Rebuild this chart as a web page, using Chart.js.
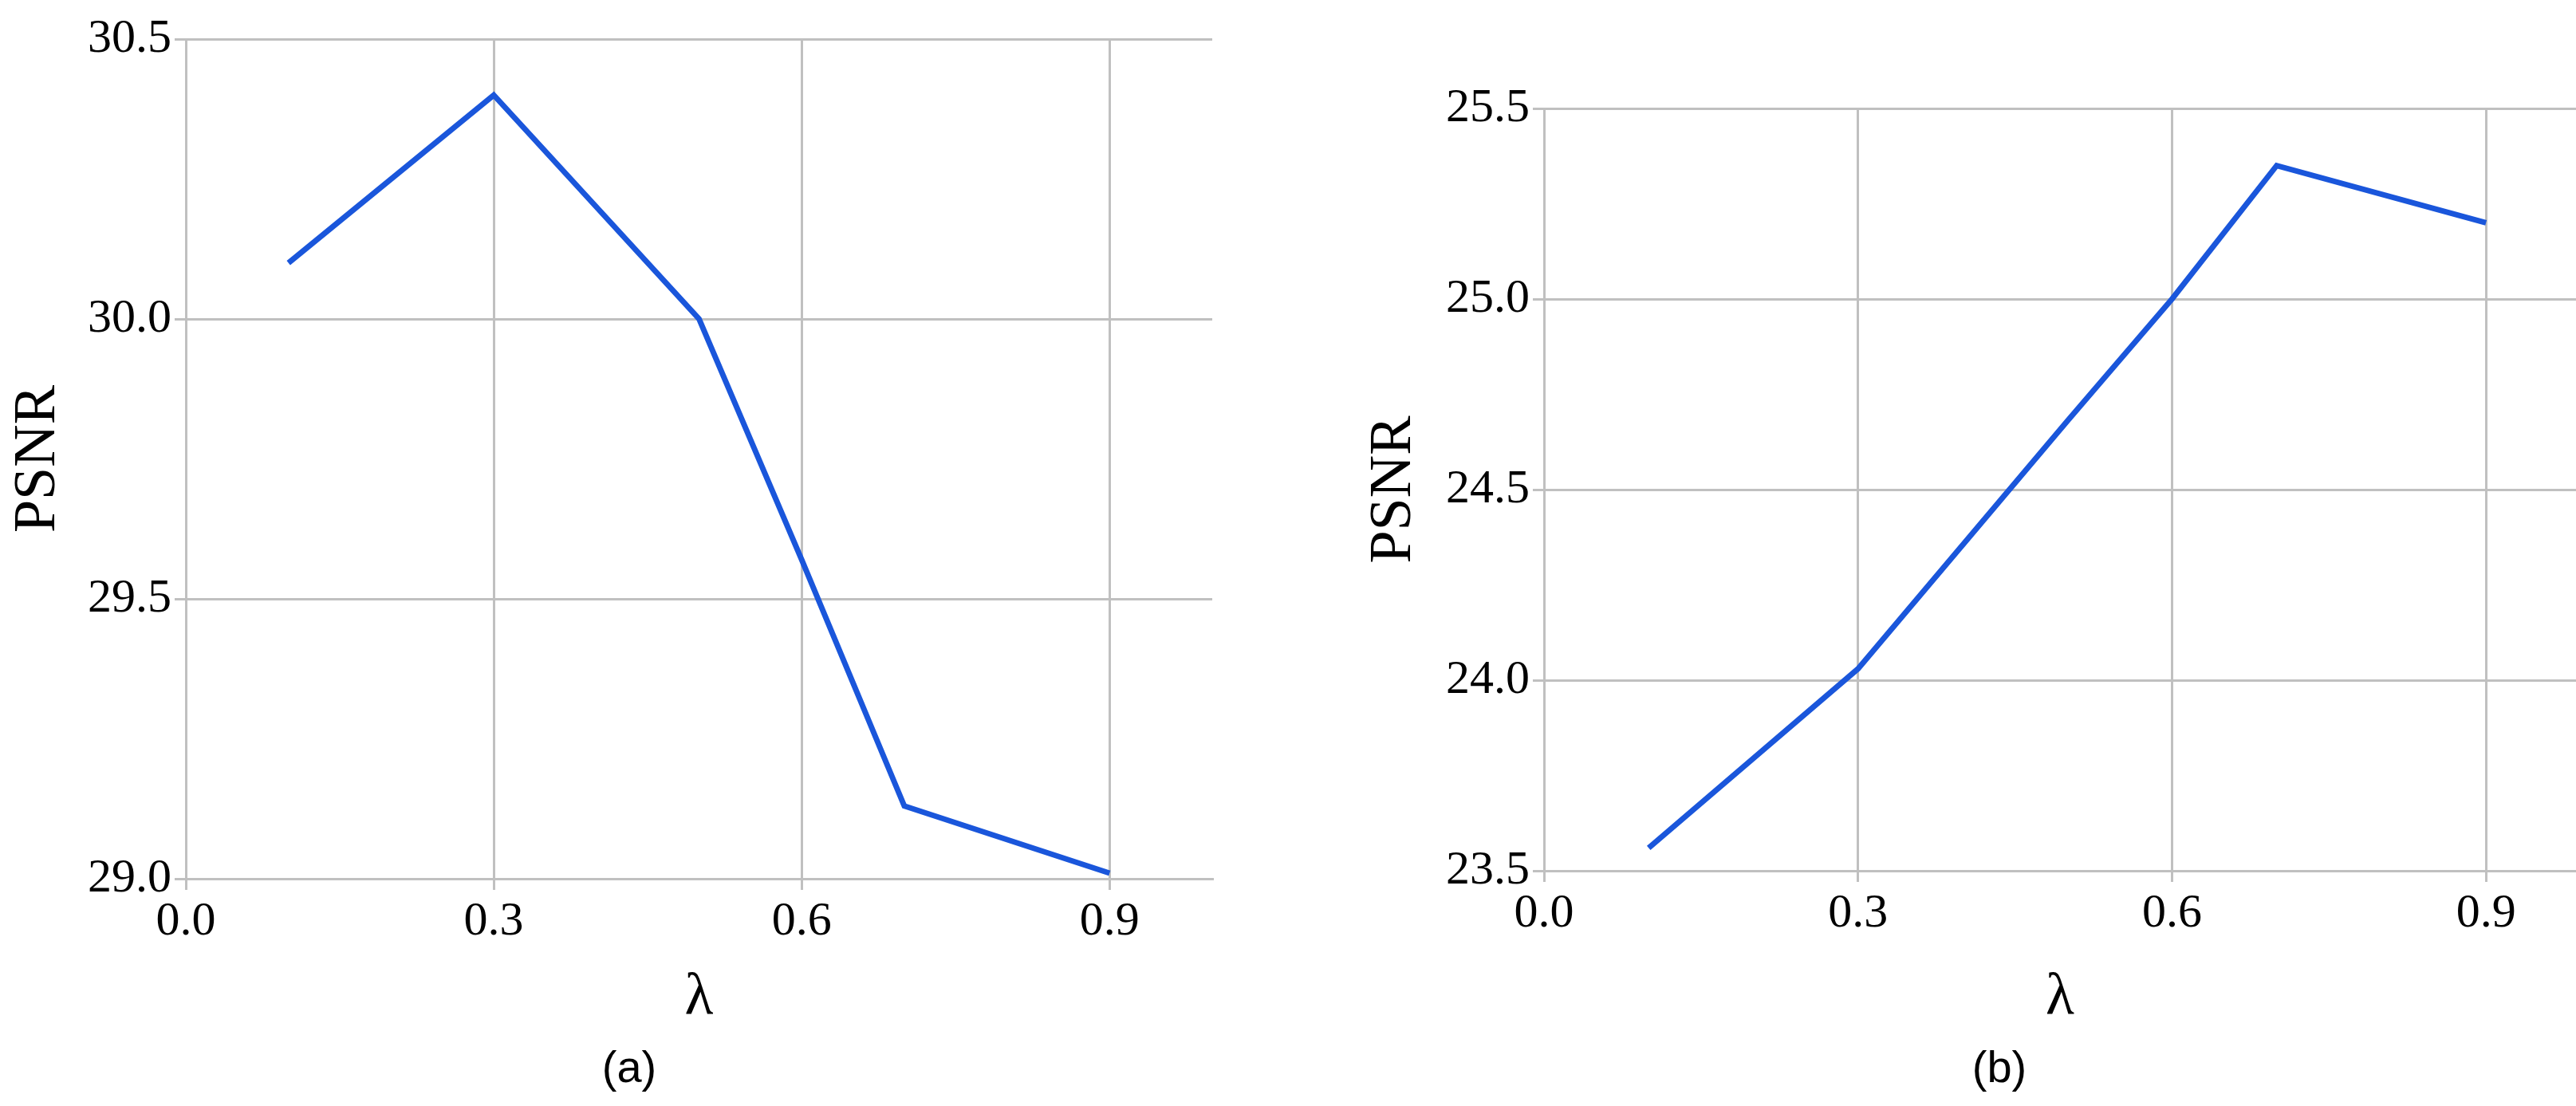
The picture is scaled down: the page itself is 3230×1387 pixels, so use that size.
<!DOCTYPE html>
<html>
<head>
<meta charset="utf-8">
<script src="https://cdn.jsdelivr.net/npm/chart.js@4/dist/chart.umd.min.js"></script>
<style>
  body { margin: 0; background: #fff; width: 3230px; height: 1387px; position: relative; overflow: hidden; }
  .box { position: absolute; }
  .cap { position: absolute; top: 1305px; font: 56px "Liberation Sans", Arial, sans-serif; transform: translateX(-50%); }
</style>
</head>
<body>
<div class="box" style="left:0;top:0;width:1540px;height:1300px"><canvas id="chartA"></canvas></div>
<div class="box" style="left:1700px;top:0;width:1530px;height:1300px"><canvas id="chartB"></canvas></div>
<div class="cap" style="left:789px">(a)</div>
<div class="cap" style="left:2507px">(b)</div>
<script>
const lambdas = [0.1, 0.3, 0.5, 0.6, 0.7, 0.9];
const psnrA = [30.1, 30.4, 30.0, 29.57, 29.13, 29.01];
const psnrB = [23.56, 24.03, 24.68, 25.0, 25.35, 25.2];
const xTicks = [0, 0.3, 0.6, 0.9];

const serif = "'Liberation Serif', 'Times New Roman', serif";
const gridColor = "#c0c0c0";

function makeChart(id, values, yMin, yMax, xMax, yWidth, padTop, padRight, xHeight, titleGap) {
  let ctx = document.getElementById(id).getContext("2d");
  return new Chart(ctx, {
    type: "line",
    data: {
      datasets: [{
        data: lambdas.map((x, i) => ({ x: x, y: values[i] })),
        borderColor: "rgb(26, 86, 219)",
        borderWidth: 7,
        pointRadius: 0,
        tension: 0,
        fill: false
      }]
    },
    options: {
      responsive: true,
      maintainAspectRatio: false,
      animation: false,
      layout: { padding: { top: padTop, right: padRight, left: 0, bottom: 0 } },
      plugins: { legend: { display: false }, tooltip: { enabled: false } },
      scales: {
        x: {
          type: "linear",
          min: 0,
          max: xMax,
          afterBuildTicks: axis => { axis.ticks = xTicks.map(v => ({ value: v })); },
          afterFit: axis => { axis.height = xHeight; },
          grid: { color: gridColor, lineWidth: 3, tickLength: 14 },
          border: { color: gridColor, width: 3 },
          ticks: { color: "#000", font: { family: serif, size: 60 }, padding: 4, callback: v => v.toFixed(1) },
          title: { display: true, text: "λ", color: "#000", font: { family: serif, size: 74 }, padding: { top: titleGap } }
        },
        y: {
          min: yMin,
          max: yMax,
          afterFit: axis => { axis.width = yWidth; },
          grid: { color: gridColor, lineWidth: 3, tickLength: 14 },
          border: { color: gridColor, width: 3 },
          ticks: { stepSize: 0.5, color: "#000", font: { family: serif, size: 60 }, padding: 4, callback: v => v.toFixed(1) },
          title: { display: true, text: "PSNR", color: "#000", font: { family: serif, size: 74 }, padding: { bottom: 10 } }
        }
      }
    }
  });
}

makeChart("chartA", psnrA, 29.0, 30.5, 1.0, 233, 49, 20, 198, 6);
makeChart("chartB", psnrB, 23.5, 25.5, 0.986, 236, 136, 0, 208, 14);
</script>
</body>
</html>
